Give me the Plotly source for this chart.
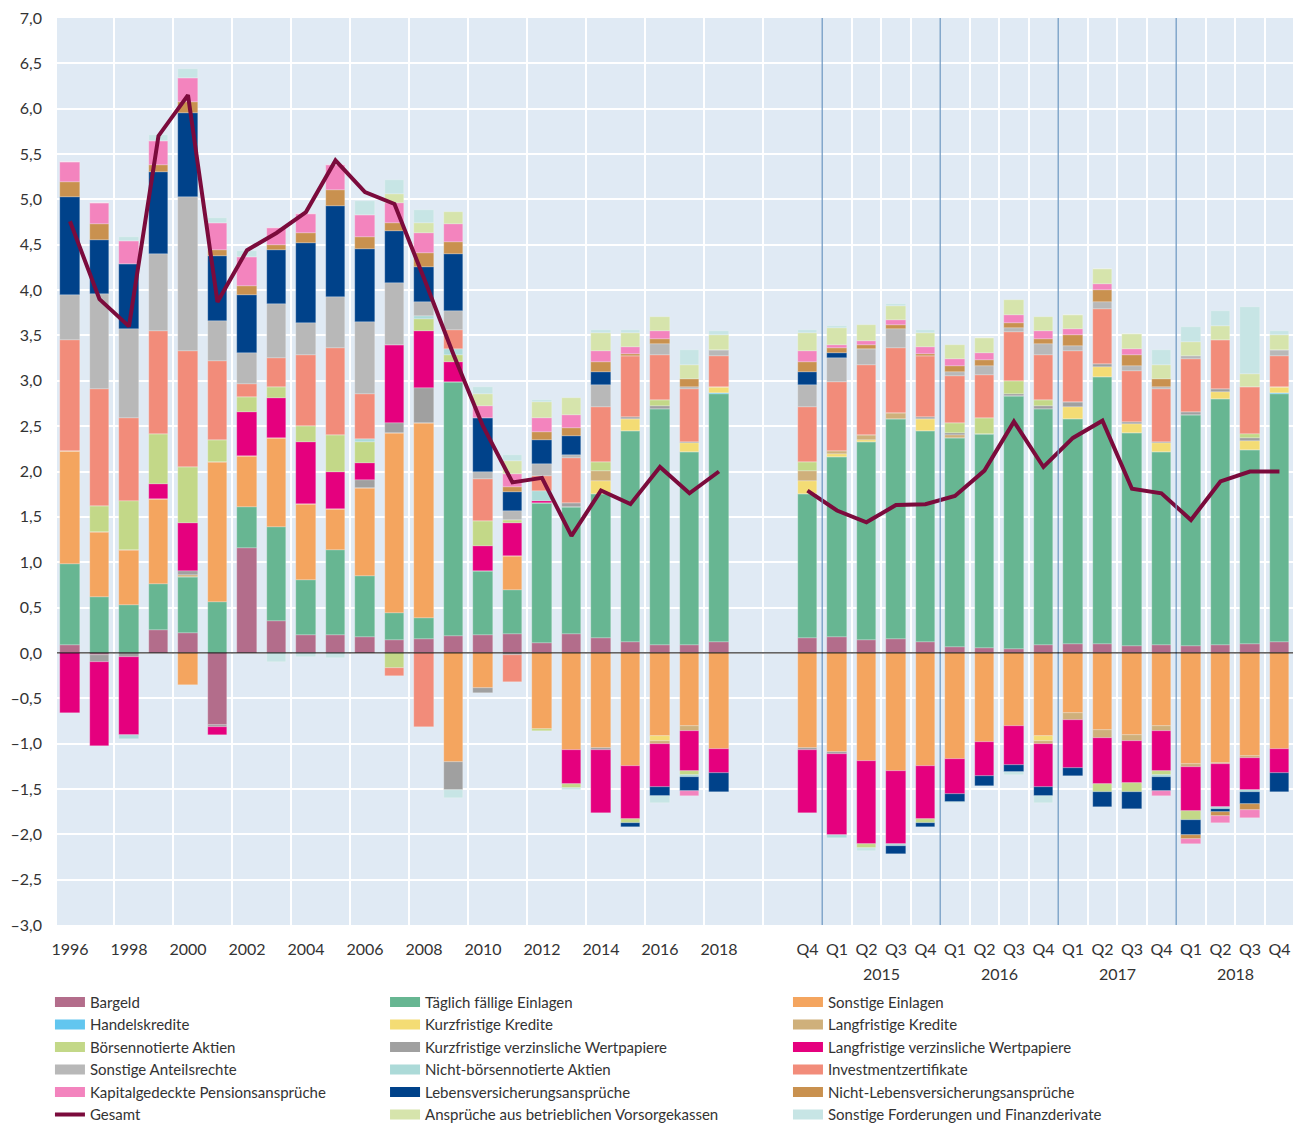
import plotly.graph_objects as go

# ---------------- categories ----------------
annual_years = ["1996", "1997", "1998", "1999", "2000", "2001", "2002", "2003", "2004", "2005",
                "2006", "2007", "2008", "2009", "2010", "2011", "2012", "2013", "2014", "2015",
                "2016", "2017", "2018"]
quarters = ["Q4", "Q1", "Q2", "Q3", "Q4", "Q1", "Q2", "Q3", "Q4", "Q1", "Q2", "Q3", "Q4",
            "Q1", "Q2", "Q3", "Q4"]
quarter_years = ["2014", "2015", "2015", "2015", "2015", "2016", "2016", "2016", "2016",
                 "2017", "2017", "2017", "2017", "2018", "2018", "2018", "2018"]

# ---------------- series values (annual 1996-2018, then Q4 2014 ... Q4 2018) ----------------
bargeld = [0.09, -0.02, 0, 0.25, 0.22, -0.80, 1.155, 0.35, 0.20, 0.20, 0.18, 0.14, 0.155, 0.19, 0.20,
           0.21, 0.11, 0.21, 0.16, 0.12, 0.085, 0.085, 0.12,
           0.16, 0.17, 0.14, 0.15, 0.12, 0.06, 0.055, 0.04, 0.085, 0.095, 0.10, 0.08, 0.085, 0.074,
           0.087, 0.10, 0.12]
taeglich = [0.89, 0.62, 0.53, 0.51, 0.62, 0.56, 0.45, 1.04, 0.60, 0.93, 0.67, 0.30, 0.235, 2.80, 0.70,
            0.48, 1.54, 1.40, 1.59, 2.33, 2.60, 2.135, 2.73,
            1.59, 1.99, 2.19, 2.43, 2.33, 2.31, 2.355, 2.79, 2.60, 2.48, 2.94, 2.34, 2.135, 2.545,
            2.71, 2.14, 2.73]
sonst_einlagen = [1.25, 0.71, 0.61, 0.94, -0.35, 1.54, 0.57, 0.98, 0.84, 0.46, 0.97, 1.99, 2.15, -1.20,
                  -0.39, 0.38, -0.835, -1.07, -1.05, -1.25, -0.92, -0.81, -1.055,
                  -1.05, -1.095, -1.19, -1.305, -1.25, -1.17, -0.98, -0.81, -0.92, -0.665, -0.855,
                  -0.905, -0.81, -1.23, -1.21, -1.14, -1.055]
handelskredite = [0, 0, 0, 0, 0, 0, 0, 0, 0, 0, 0, 0, 0, 0, 0, 0, 0, 0, 0, 0, 0, 0, 0.015,
                  0, 0, 0, 0, 0, 0, 0, 0, 0, 0, 0, 0, 0, 0, 0, 0, 0.015]
kurz_kredite = [0, 0, 0, 0, 0, 0, 0, 0, 0, 0, 0, 0, 0, 0, 0, 0, 0, 0, 0.15, 0.13, -0.055, 0.09, 0.07,
                0.15, 0.03, 0.02, 0, 0.13, 0, 0, 0, -0.055, 0.135, 0.11, 0.10, 0.09, 0, 0.075, 0.095,
                0.07]
lang_kredite = [0, 0, 0, 0, 0.02, 0, 0, 0, 0, 0, 0, 0, 0, 0, 0, 0, 0, 0, 0.11, 0, -0.025, -0.05, 0,
                0.11, 0.04, 0.05, 0.07, 0, 0.03, 0, 0, -0.025, -0.075, -0.085, -0.065, -0.05, -0.03,
                -0.015, -0.015, 0]
kurz_wp = [0, -0.08, -0.05, 0, 0.04, -0.02, 0, 0, 0, 0, 0.09, 0.10, 0.38, -0.31, -0.05, -0.02, 0, 0.045,
           -0.02, 0.02, 0.04, 0.02, 0,
           -0.02, -0.02, 0, 0, 0.02, 0.02, 0, 0.03, 0.04, 0.06, 0.04, 0.03, 0.02, 0.035, 0.035,
           0.035, 0]
lang_wp = [-0.66, -0.925, -0.85, 0.165, 0.53, -0.08, 0.48, 0.44, 0.68, 0.40, 0.18, 0.86, 0.63, 0.22,
           0.28, 0.36, 0.025, -0.37, -0.70, -0.58, -0.48, -0.44, -0.265,
           -0.70, -0.895, -0.92, -0.805, -0.58, -0.39, -0.375, -0.43, -0.48, -0.53, -0.50, -0.465,
           -0.44, -0.48, -0.47, -0.355, -0.265]
boersen_aktien = [0, 0.29, 0.54, 0.545, 0.62, 0.25, 0.17, 0.12, 0.18, 0.41, 0.24, -0.17, 0.13, 0.07,
                  0.27, 0.03, -0.03, -0.05, 0.10, -0.04, 0.06, -0.05, 0,
                  0.10, 0, -0.04, 0, -0.04, 0.12, 0.18, 0.14, 0.06, 0, -0.09, -0.10, -0.05, -0.10,
                  0, 0.04, 0]
nicht_boersen = [0, 0, -0.05, 0, 0, 0, 0, 0, 0, 0, 0.03, 0, 0.03, 0.075, 0, 0, 0.11, 0, 0, 0, 0,
                 -0.02, 0,
                 0, -0.03, 0, -0.02, 0, 0, 0, 0, 0, 0, 0, 0, -0.02, 0, -0.025, -0.025, 0]
investment = [1.22, 1.29, 0.91, 1.14, 1.28, 0.87, 0.14, 0.32, 0.79, 0.96, 0.49, -0.08, -0.82, 0.20,
              0.47, -0.30, 0.17, 0.49, 0.60, 0.67, 0.50, 0.585, 0.34,
              0.60, 0.755, 0.775, 0.71, 0.67, 0.51, 0.475, 0.54, 0.50, 0.56, 0.60, 0.56, 0.585,
              0.59, 0.54, 0.52, 0.34]
sonst_anteil = [0.50, 1.05, 0.98, 0.85, 1.70, 0.44, 0.34, 0.60, 0.345, 0.56, 0.80, 0.685, 0.16, 0.21,
                0.07, 0.11, 0.125, 0.04, 0.24, 0, 0.12, 0.02, 0.06,
                0.24, 0.265, 0.175, 0.21, 0, 0.045, 0.095, 0.04, 0.12, 0.05, 0.075, 0.055, 0.02,
                0.03, 0, 0, 0.06]
lebensvers = [1.08, 0.59, 0.72, 0.90, 0.92, 0.72, 0.64, 0.59, 0.88, 1.01, 0.80, 0.58, 0.39, 0.63,
              0.60, 0.20, 0.265, 0.21, 0.15, -0.05, -0.10, -0.15, -0.21,
              0.15, 0.055, 0, -0.09, -0.05, -0.08, -0.115, -0.07, -0.10, -0.09, -0.17, -0.185,
              -0.15, -0.17, -0.03, -0.13, -0.21]
nicht_lebensvers = [0.16, 0.18, 0, 0.08, 0.12, 0.06, 0.10, 0.06, 0.11, 0.17, 0.14, 0.09, 0.145, 0.14,
                    0, 0.06, 0.095, 0.08, 0.11, 0.03, 0.06, 0.08, 0,
                    0.11, 0.055, 0.05, 0.04, 0.03, 0.065, 0.065, 0.06, 0.06, 0.12, 0.135, 0.125,
                    0.08, -0.04, -0.05, -0.065, 0]
pension = [0.22, 0.23, 0.25, 0.26, 0.27, 0.30, 0.32, 0.18, 0.21, 0.28, 0.24, 0.21, 0.23, 0.19, 0.13,
           0.14, 0.155, 0.15, 0.12, 0.07, 0.08, -0.06, 0.01,
           0.12, 0.03, 0.04, 0.06, 0.07, 0.08, 0.085, 0.09, 0.08, 0.07, 0.07, 0.065, -0.06, -0.06,
           -0.08, -0.09, 0.01]
vorsorgekassen = [0, 0, 0, 0, 0, 0, 0, 0, 0, 0, 0, 0.10, 0.10, 0.14, 0.14, 0.15, 0.175, 0.18, 0.20,
                  0.16, 0.16, 0.16, 0.16,
                  0.20, 0.19, 0.17, 0.16, 0.16, 0.16, 0.16, 0.16, 0.16, 0.16, 0.16, 0.16, 0.16, 0.15,
                  0.16, 0.15, 0.16]
sonst_forderungen = [0, 0, 0.04, 0.07, 0.10, 0.05, 0.07, -0.10, -0.05, -0.06, 0.15, 0.16, 0.15, -0.09,
                     0.07, 0.06, 0.02, -0.02, 0.025, 0.03, -0.08, 0.17, 0.04,
                     0.025, 0.02, -0.03, 0.02, 0.03, -0.02, 0, -0.04, -0.08, 0, 0, 0, 0.17, 0.17,
                     0.16, 0.73, 0.04]
gesamt_annual = [4.76, 3.90, 3.60, 5.70, 6.15, 3.87, 4.44, 4.63, 4.86, 5.43, 5.08, 4.95, 4.13, 3.29,
                 2.50, 1.88, 1.93, 1.29, 1.79, 1.64, 2.05, 1.76, 2.00]
gesamt_quarterly = [1.79, 1.57, 1.44, 1.63, 1.64, 1.73, 2.01, 2.55, 2.05, 2.37, 2.56, 1.81, 1.76,
                    1.465, 1.89, 2.00, 2.00]

# stacking order (bottom -> top), colours, legend column and legend row
series = [
    ("Bargeld", bargeld, "#b36d8b", 1, 1),
    ("Täglich fällige Einlagen", taeglich, "#67b692", 2, 1),
    ("Sonstige Einlagen", sonst_einlagen, "#f4a55f", 3, 1),
    ("Handelskredite", handelskredite, "#62c6ef", 1, 2),
    ("Kurzfristige Kredite", kurz_kredite, "#f4dc74", 2, 2),
    ("Langfristige Kredite", lang_kredite, "#cfb07b", 3, 2),
    ("Kurzfristige verzinsliche Wertpapiere", kurz_wp, "#a0a0a0", 2, 3),
    ("Langfristige verzinsliche Wertpapiere", lang_wp, "#e5007e", 3, 3),
    ("Börsennotierte Aktien", boersen_aktien, "#c3d888", 1, 3),
    ("Nicht-börsennotierte Aktien", nicht_boersen, "#acdad8", 2, 4),
    ("Investmentzertifikate", investment, "#f28c7a", 3, 4),
    ("Sonstige Anteilsrechte", sonst_anteil, "#b8b8b8", 1, 4),
    ("Lebensversicherungsansprüche", lebensvers, "#00428a", 2, 5),
    ("Nicht-Lebensversicherungsansprüche", nicht_lebensvers, "#c9914f", 3, 5),
    ("Kapitalgedeckte Pensionsansprüche", pension, "#f384be", 1, 5),
    ("Ansprüche aus betrieblichen Vorsorgekassen", vorsorgekassen, "#d6e4ac", 2, 6),
    ("Sonstige Forderungen und Finanzderivate", sonst_forderungen, "#c7e5e5", 3, 6),
]
gesamt_color = "#7b0b3c"

# ---------------- positions ----------------
n_a, n_q, gap = len(annual_years), len(quarters), 2
xpos = list(range(n_a)) + [n_a + gap + j for j in range(n_q)]
q_pos = xpos[n_a:]

fig = go.Figure()
for name, vals, col, c, r in series:
    fig.add_trace(go.Bar(
        x=xpos, y=vals, name=name, marker_color=col,
        marker_line=dict(width=0.5, color="rgba(255,255,255,0.45)"),
        width=0.66, showlegend=False, hoverinfo="name+y"))

line_x = xpos[:n_a] + [None] + q_pos
line_y = gesamt_annual + [None] + gesamt_quarterly
fig.add_trace(go.Scatter(x=line_x, y=line_y, mode="lines", name="Gesamt",
                         line=dict(color=gesamt_color, width=4), connectgaps=False,
                         legend="legend", legendrank=6))

legend_names = {1: "legend", 2: "legend2", 3: "legend3"}
for name, vals, col, c, r in series:
    fig.add_trace(go.Scatter(x=[None], y=[None], mode="lines", name=name,
                             line=dict(color=col, width=12), legend=legend_names[c],
                             legendrank=r, hoverinfo="skip"))

# ---------------- axes ----------------
tickvals = [xpos[i] for i, y in enumerate(annual_years) if int(y) % 2 == 0] + q_pos
ticktext = [y for y in annual_years if int(y) % 2 == 0] + quarters

grid_x = [k + 0.5 for k in range(1, n_a + 1, 2)]
sep_x = []
for j in range(n_q - 1):
    mid = (q_pos[j] + q_pos[j + 1]) / 2
    if quarters[j + 1] == "Q1":
        sep_x.append(mid)
    else:
        grid_x.append(mid)

yvals = [v / 2 for v in range(-6, 15)]
ytext = [("–" if v < 0 else "") + f"{abs(v):.1f}".replace(".", ",") for v in yvals]

font_family = "Lato, 'Open Sans', sans-serif"
txt = "#333333"
leg_font = dict(size=15, color=txt)
leg_y = -0.067

fig.update_layout(
    width=1294, height=1128,
    margin=dict(l=57, r=1, t=18, b=203, autoexpand=False),
    paper_bgcolor="white", plot_bgcolor="#e0eaf4",
    barmode="relative", bargap=0,
    font=dict(family=font_family, size=16, color=txt),
    xaxis=dict(range=[-0.44, 41.46], tickmode="array", tickvals=tickvals, ticktext=ticktext,
               showgrid=False, zeroline=False, ticks="", ticklabelstandoff=13,
               tickfont=dict(size=16, color=txt),
               minor=dict(tickmode="array", tickvals=grid_x, showgrid=True,
                          gridcolor="white", gridwidth=1.5, ticks="")),
    yaxis=dict(range=[-3, 7], tickmode="array", tickvals=yvals, ticktext=ytext,
               showgrid=True, gridcolor="white", gridwidth=1.5, zeroline=False,
               ticks="", ticklabelstandoff=14, tickfont=dict(size=16, color=txt)),
    legend=dict(x=-0.0057, y=leg_y, xanchor="left", yanchor="top",
                bgcolor="rgba(0,0,0,0)", font=leg_font, itemwidth=30),
    legend2=dict(x=0.2654, y=leg_y, xanchor="left", yanchor="top",
                 bgcolor="rgba(0,0,0,0)", font=leg_font, itemwidth=30),
    legend3=dict(x=0.5914, y=leg_y, xanchor="left", yanchor="top",
                 bgcolor="rgba(0,0,0,0)", font=leg_font, itemwidth=30),
    showlegend=True,
)

shapes = [dict(type="line", xref="x", yref="paper", x0=s, x1=s, y0=0, y1=1,
               line=dict(color="#6b96c0", width=1.2), layer="above") for s in sep_x]
shapes.append(dict(type="line", xref="paper", yref="y", x0=0, x1=1, y0=0, y1=0,
                   line=dict(color="black", width=1), layer="above"))
fig.update_layout(shapes=shapes)

# year labels under quarterly ticks
for yr in ["2015", "2016", "2017", "2018"]:
    idx = [q_pos[j] for j in range(n_q) if quarter_years[j] == yr]
    fig.add_annotation(x=sum(idx) / len(idx), y=-0.053, xref="x", yref="paper", text=yr,
                       showarrow=False, yanchor="middle", font=dict(size=16, color=txt))

fig.write_html("out.html", config={"displayModeBar": False},
               post_script="document.body.style.margin='0';")
